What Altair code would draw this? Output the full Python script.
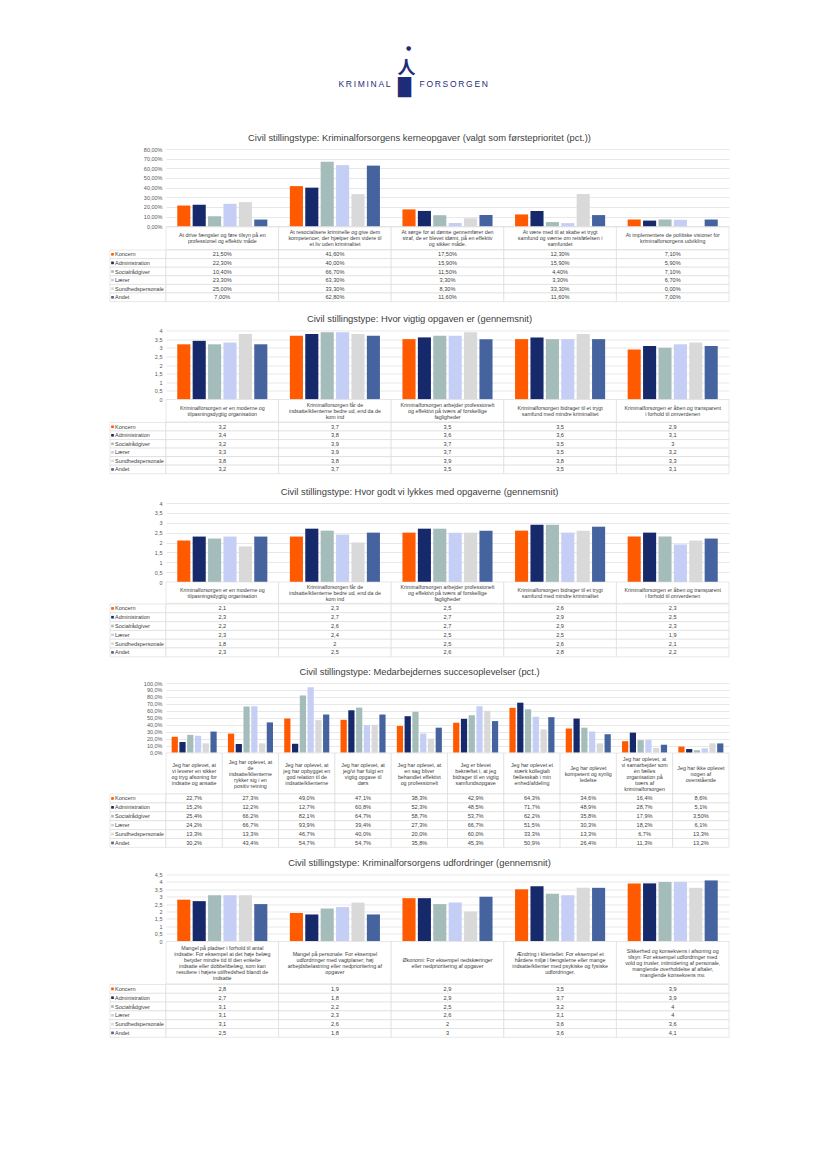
import altair as alt
import pandas as pd

SERIES = ["Koncern", "Administration", "Socialrådgiver", "Lærer", "Sundhedspersonale", "Andet"]
COLORS = ["#FF5A00", "#15296B", "#A5BDBA", "#C5CEF5", "#D9D9D9", "#45639E"]

FONT = "Liberation Sans"
GRID = "#D9D9D9"
TXT = "#404040"
NAVY = "#1E2C78"
W = 563
LEGW = 56
LH = 6  # header line height

# ---------------- Chart 1 ----------------
T1 = "Civil stillingstype: Kriminalforsorgens kerneopgaver (valgt som førsteprioritet (pct.))"
CATS1 = [
    "At drive fængsler og føre tilsyn på en\nprofessionel og effektiv måde",
    "At resocialisere kriminelle og give dem\nkompetencer, der hjælper dem videre til\net liv uden kriminalitet",
    "At sørge for at dømte gennemfører den\nstraf, de er blevet idømt, på en effektiv\nog sikker måde.",
    "At være med til at skabe et trygt\nsamfund og værne om retsfølelsen i\nsamfundet",
    "At implementere de politiske visioner for\nkriminalforsorgens udvikling",
]
V1_KONCERN = [21.5, 41.6, 17.5, 12.3, 7.1]
V1_ADMIN = [22.3, 40.0, 15.9, 15.9, 5.9]
V1_SOCIAL = [10.4, 66.7, 11.5, 4.4, 7.1]
V1_LAERER = [23.3, 63.3, 3.3, 3.3, 6.7]
V1_SUNDHED = [25.0, 33.3, 8.3, 33.3, 0.0]
V1_ANDET = [7.0, 62.8, 11.6, 11.6, 7.0]

# ---------------- Chart 2 ----------------
T2 = "Civil stillingstype: Hvor vigtig opgaven er (gennemsnit)"
CATS23 = [
    "Kriminalforsorgen er en moderne og\ntilpasningsdygtig organisation",
    "Kriminalforsorgen får de\nindsatte/klienterne bedre ud, end da de\nkom ind",
    "Kriminalforsorgen arbejder professionelt\nog effektivt på tværs af forskellige\nfagligheder",
    "Kriminalforsorgen bidrager til et trygt\nsamfund med mindre kriminalitet",
    "Kriminalforsorgen er åben og transparent\ni forhold til omverdenen",
]
V2_KONCERN = [3.2, 3.7, 3.5, 3.5, 2.9]
V2_ADMIN = [3.4, 3.8, 3.6, 3.6, 3.1]
V2_SOCIAL = [3.2, 3.9, 3.7, 3.5, 3.0]
V2_LAERER = [3.3, 3.9, 3.7, 3.5, 3.2]
V2_SUNDHED = [3.8, 3.8, 3.9, 3.8, 3.3]
V2_ANDET = [3.2, 3.7, 3.5, 3.5, 3.1]

# ---------------- Chart 3 ----------------
T3 = "Civil stillingstype: Hvor godt vi lykkes med opgaverne (gennemsnit)"
V3_KONCERN = [2.1, 2.3, 2.5, 2.6, 2.3]
V3_ADMIN = [2.3, 2.7, 2.7, 2.9, 2.5]
V3_SOCIAL = [2.2, 2.6, 2.7, 2.9, 2.3]
V3_LAERER = [2.3, 2.4, 2.5, 2.5, 1.9]
V3_SUNDHED = [1.8, 2.0, 2.5, 2.6, 2.1]
V3_ANDET = [2.3, 2.5, 2.6, 2.8, 2.2]

# ---------------- Chart 4 ----------------
T4 = "Civil stillingstype: Medarbejdernes succesoplevelser (pct.)"
CATS4 = [
    "Jeg har oplevet, at\nvi leverer en sikker\nog tryg afsoning for\nindsatte og ansatte",
    "Jeg har oplevet, at\nde\nindsatte/klienterne\nrykker sig i en\npositiv retning",
    "Jeg har oplevet, at\njeg har opbygget en\ngod relation til de\nindsatte/klienterne",
    "Jeg har oplevet, at\njeg/vi har fulgt en\nvigtig opgave til\ndørs",
    "Jeg har oplevet, at\nen sag bliver\nbehandlet effektivt\nog professionelt",
    "Jeg er blevet\nbekræftet i, at jeg\nbidrager til en vigtig\nsamfundsopgave",
    "Jeg har oplevet et\nstærk kollegialt\nfællesskab i min\nenhed/afdeling",
    "Jeg har oplevet\nkompetent og synlig\nledelse",
    "Jeg har oplevet, at\nvi samarbejder som\nén fælles\norganisation på\ntværs af\nkriminalforsorgen",
    "Jeg har ikke oplevet\nnogen af\novenstående",
]
V4_KONCERN = [22.7, 27.3, 49.0, 47.1, 38.3, 42.9, 64.3, 34.6, 16.4, 8.6]
V4_ADMIN = [15.2, 12.2, 12.7, 60.8, 52.3, 48.5, 71.7, 48.9, 28.7, 5.1]
V4_SOCIAL = [25.4, 66.2, 82.1, 64.7, 58.7, 53.7, 62.2, 35.8, 17.9, 3.5]
V4_LAERER = [24.2, 66.7, 93.9, 39.4, 27.3, 66.7, 51.5, 30.3, 18.2, 6.1]
V4_SUNDHED = [13.3, 13.3, 46.7, 40.0, 20.0, 60.0, 33.3, 13.3, 6.7, 13.3]
V4_ANDET = [30.2, 43.4, 54.7, 54.7, 35.8, 45.3, 50.9, 26.4, 11.3, 13.2]
V4_TWO_DECIMALS = {("Socialrådgiver", 9)}  # shown as "3,50%" in the table

# ---------------- Chart 5 ----------------
T5 = "Civil stillingstype: Kriminalforsorgens udfordringer (gennemsnit)"
CATS5 = [
    "Mangel på pladser i forhold til antal\nindsatte: For eksempel at det høje belæg\nbetyder mindre tid til den enkelte\nindsatte eller dobbeltbelæg, som kan\nresultere i højere utilfredshed blandt de\nindsatte",
    "Mangel på personale: For eksempel\nudfordringer med vagtplaner; høj\narbejdsbelastning eller nedprioritering af\nopgaver",
    "Økonomi: For eksempel nedskæringer\neller nedprioritering af opgaver",
    "Ændring i klientellet: For eksempel et\nhårdere miljø i fængslerne eller mange\nindsatte/klienter med psykiske og fysiske\nudfordringer.",
    "Sikkerhed og konsekvens i afsoning og\ntilsyn: For eksempel udfordringer med\nvold og trusler, intimidering af personale,\nmanglende overholdelse af aftaler,\nmanglende konsekvens mv.",
]
V5_KONCERN = [2.8, 1.9, 2.9, 3.5, 3.9]
V5_ADMIN = [2.7, 1.8, 2.9, 3.7, 3.9]
V5_SOCIAL = [3.1, 2.2, 2.5, 3.2, 4.0]
V5_LAERER = [3.1, 2.3, 2.6, 3.1, 4.0]
V5_SUNDHED = [3.1, 2.6, 2.0, 3.6, 3.6]
V5_ANDET = [2.5, 1.8, 3.0, 3.6, 4.1]


def pct2(v, s, i):
    return f"{v:.2f}%".replace(".", ",")


def pct1(v, s, i):
    if (s, i) in V4_TWO_DECIMALS:
        return f"{v:.2f}%".replace(".", ",")
    return f"{v:.1f}%".replace(".", ",")


def avg(v, s, i):
    return f"{v:g}".replace(".", ",")


color = alt.Color("series:N", scale=alt.Scale(domain=SERIES, range=COLORS), legend=None)
ys_tab = alt.Scale(domain=SERIES, paddingInner=0, paddingOuter=0)
INDEP = dict(x="independent", y="independent", xOffset="independent")


def spacer(h):
    return alt.Chart(pd.DataFrame({"a": [0]})).mark_point(opacity=0).properties(width=LEGW, height=h)


def section(title, cats, series_vals, fmt, ymax, ystep, yexpr, hb, hh, hr, toff, offpad):
    recs = []
    for s, vals in zip(SERIES, series_vals):
        for i, (c, v) in enumerate(zip(cats, vals)):
            recs.append({"cat": c, "series": s, "value": v, "label": fmt(v, s, i)})
    df = pd.DataFrame(recs)
    n = int(round(ymax / ystep))
    ticks = [round(k * ystep, 4) for k in range(n + 1)]

    xs_bar = alt.Scale(domain=cats, paddingInner=0.2, paddingOuter=0.1)
    xs_tab = alt.Scale(domain=cats, paddingInner=0, paddingOuter=0)

    bars = alt.Chart(df).mark_bar().encode(
        x=alt.X("cat:N", scale=xs_bar, axis=None),
        xOffset=alt.XOffset("series:N", scale=alt.Scale(domain=SERIES, paddingInner=offpad)),
        y=alt.Y("value:Q", scale=alt.Scale(domain=[0, ymax], nice=False),
                axis=alt.Axis(values=ticks, labelExpr=yexpr, title=None, domain=False, ticks=False,
                              grid=True, gridColor=GRID, gridWidth=0.6, labelFontSize=5.5,
                              labelColor="#595959", labelFont=FONT, labelPadding=4)),
        color=color,
    ).properties(width=W, height=hb)

    hdf = pd.DataFrame({"cat": cats, "nl": [c.count("\n") + 1 for c in cats]})
    hbase = alt.Chart(hdf).encode(x=alt.X("cat:N", scale=xs_tab, axis=None))
    hlayers = [hbase.mark_rect(fill="white", stroke=GRID, strokeWidth=0.6)]
    for k in sorted(set(hdf["nl"])):
        hlayers.append(
            hbase.transform_filter(alt.datum.nl == k).mark_text(
                lineBreak="\n", fontSize=5.3, lineHeight=LH, color=TXT, font=FONT,
                baseline="middle", dy=-(k - 1) * LH / 2).encode(text="cat:N"))
    header = alt.layer(*hlayers).properties(width=W, height=hh)

    rbase = alt.Chart(df).encode(
        x=alt.X("cat:N", scale=xs_tab, axis=None),
        y=alt.Y("series:N", scale=ys_tab, axis=None),
    )
    table = alt.layer(
        rbase.mark_rect(fill="white", stroke=GRID, strokeWidth=0.6),
        rbase.mark_text(fontSize=5.6, color=TXT, font=FONT).encode(text="label:N"),
    ).properties(width=W, height=hr)

    ldf = pd.DataFrame({"series": SERIES})
    lbase = alt.Chart(ldf).encode(y=alt.Y("series:N", scale=ys_tab, axis=None))
    legend = alt.layer(
        lbase.mark_rect(fill="white", stroke=GRID, strokeWidth=0.6),
        lbase.mark_square(size=7, opacity=1, xOffset=-25.5).encode(color=color),
        lbase.mark_text(align="left", dx=-23, fontSize=5.5, color=TXT, font=FONT).encode(text="series:N"),
    ).properties(width=LEGW, height=hr)

    return alt.concat(
        spacer(hb), bars, spacer(hh), header, legend, table,
        columns=2, spacing=0, bounds="flush",
    ).resolve_scale(**INDEP).properties(
        title=alt.TitleParams(title, anchor="middle", fontSize=9.4, font=FONT,
                              fontWeight="normal", color=TXT, offset=toff))


EXPR_PCT2 = "replace(format(datum.value, '.2f'), '.', ',') + '%'"
EXPR_PCT1 = "replace(format(datum.value, '.1f'), '.', ',') + '%'"
EXPR_AVG = "replace(toString(datum.value), '.', ',')"

s1 = section(T1, CATS1, [V1_KONCERN, V1_ADMIN, V1_SOCIAL, V1_LAERER, V1_SUNDHED, V1_ANDET],
             pct2, 80, 10, EXPR_PCT2, 77.3, 22.7, 51.6, 4, 0.15)
s2 = section(T2, CATS23, [V2_KONCERN, V2_ADMIN, V2_SOCIAL, V2_LAERER, V2_SUNDHED, V2_ANDET],
             avg, 4, 0.5, EXPR_AVG, 69, 22.4, 51.2, 4, 0.15)
s3 = section(T3, CATS23, [V3_KONCERN, V3_ADMIN, V3_SOCIAL, V3_LAERER, V3_SUNDHED, V3_ANDET],
             avg, 4, 0.5, EXPR_AVG, 79, 21.3, 52.8, 4, 0.15)
s4 = section(T4, CATS4, [V4_KONCERN, V4_ADMIN, V4_SOCIAL, V4_LAERER, V4_SUNDHED, V4_ANDET],
             pct1, 100, 10, EXPR_PCT1, 69.6, 41, 53.4, 4, 0.2)
s5 = section(T5, CATS5, [V5_KONCERN, V5_ADMIN, V5_SOCIAL, V5_LAERER, V5_SUNDHED, V5_ANDET],
             avg, 4.5, 0.5, EXPR_AVG, 66.6, 42.3, 52.8, 4, 0.15)

# ---------------- Logo ----------------
logo_base = alt.Chart(pd.DataFrame({"a": [0]}))
logo = alt.layer(
    logo_base.mark_text(text="K\u2009R\u2009I\u2009M\u2009I\u2009N\u2009A\u2009L", align="right", dx=-29, dy=9,
                        fontSize=8.5, font=FONT, color=NAVY),
    logo_base.mark_text(text="F\u2009O\u2009R\u2009S\u2009O\u2009R\u2009G\u2009E\u2009N", align="left", dx=0, dy=9,
                        fontSize=8.5, font=FONT, color=NAVY),
    logo_base.mark_text(text="█", dx=-15, dy=13, fontSize=17, font="DejaVu Sans", color=NAVY),
    logo_base.mark_text(text="人", dx=-13, dy=-6, fontSize=18, font="Noto Sans CJK JP", fontWeight="bold", color=NAVY),
    logo_base.mark_text(text="●", dx=-11, dy=-27, fontSize=6, font="DejaVu Sans", color=NAVY),
).properties(width=LEGW + W, height=40)

top3 = alt.vconcat(s1, s2, s3, spacing=11.5).resolve_scale(**INDEP)
bottom2 = alt.vconcat(s4, s5, spacing=9.5).resolve_scale(**INDEP)
body = alt.vconcat(top3, bottom2, spacing=8).resolve_scale(**INDEP)

chart = alt.vconcat(logo, body, spacing=36).resolve_scale(**INDEP).properties(
    padding={"left": 101, "top": 37, "right": 5, "bottom": 5},
    background="white",
).configure_view(strokeWidth=0)

chart.save("out.html", embed_options={"renderer": "svg", "actions": False})
